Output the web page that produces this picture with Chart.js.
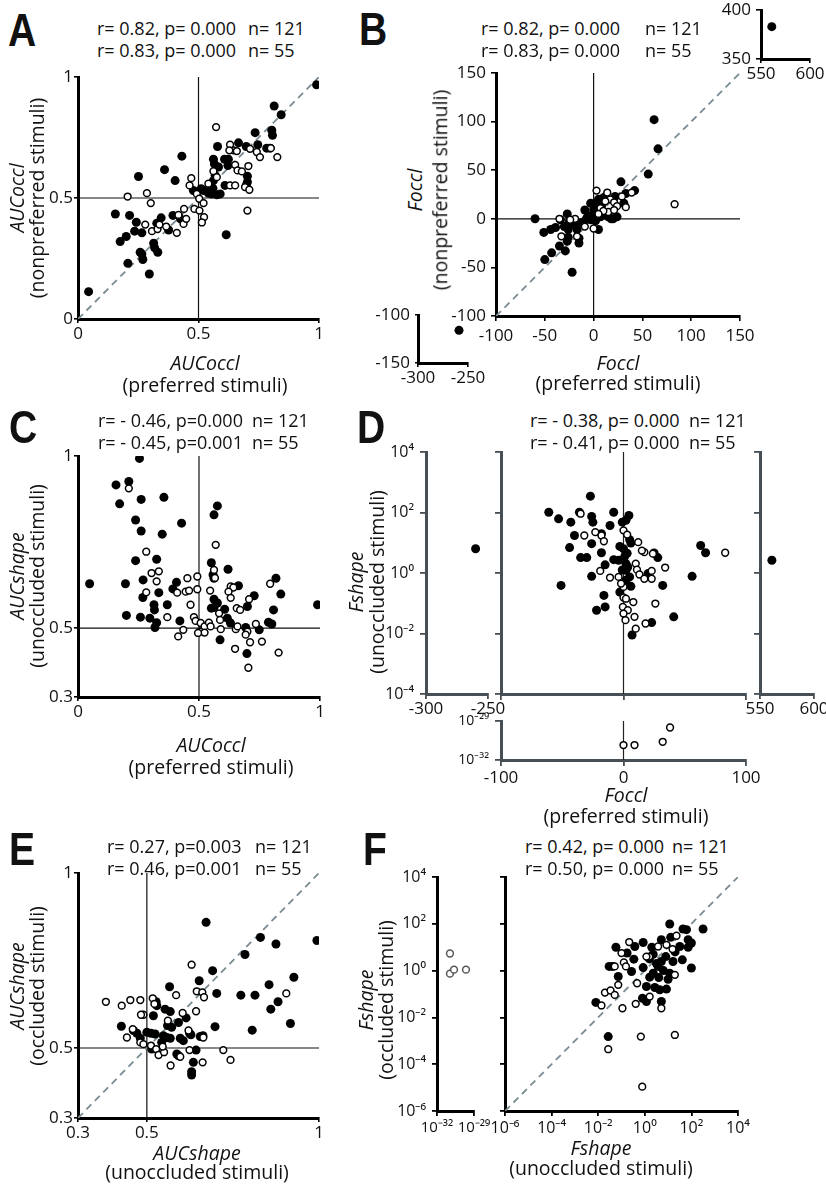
<!DOCTYPE html>
<html>
<head>
<meta charset="utf-8">
<script src="https://cdn.jsdelivr.net/npm/chart.js@4.4.0/dist/chart.umd.min.js"></script>
<style>
  body { margin: 0; background: #fff; overflow: hidden; }
  #fig { position: relative; width: 826px; height: 1185px; font-family: 'Open Sans', sans-serif; color: #111; }
  canvas { position: absolute; }
  .lbl { position: absolute; white-space: pre; line-height: 1; transform: translate(-50%, -50%); }
</style>
</head>
<body>
<div id="fig"></div>
<script>
// ---- data ----
// A: AUCoccl preferred (x) vs nonpreferred (y)
const aFilled = [[0.044,0.113],[0.99,0.968],[0.814,0.88],[0.843,0.844],[0.735,0.77],[0.804,0.78],[0.807,0.759],[0.783,0.706],[0.797,0.706],[0.746,0.72],[0.666,0.728],[0.698,0.713],[0.579,0.713],[0.624,0.66],[0.608,0.66],[0.562,0.66],[0.566,0.641],[0.583,0.628],[0.622,0.634],[0.703,0.59],[0.703,0.566],[0.698,0.552],[0.569,0.593],[0.562,0.572],[0.61,0.552],[0.555,0.517],[0.576,0.513],[0.59,0.517],[0.615,0.348],[0.431,0.673],[0.359,0.617],[0.403,0.572],[0.251,0.589],[0.155,0.434],[0.214,0.428],[0.242,0.4],[0.235,0.363],[0.265,0.356],[0.2,0.341],[0.175,0.32],[0.258,0.276],[0.265,0.269],[0.269,0.246],[0.207,0.23],[0.296,0.186],[0.314,0.313],[0.318,0.294],[0.331,0.276],[0.327,0.396],[0.345,0.418],[0.376,0.368],[0.394,0.428],[0.425,0.414],[0.479,0.531],[0.511,0.538],[0.521,0.531],[0.541,0.52],[0.55,0.53],[0.56,0.54]];
const aOpen = [[0.573,0.793],[0.631,0.72],[0.645,0.697],[0.659,0.694],[0.628,0.697],[0.714,0.703],[0.742,0.69],[0.755,0.669],[0.8,0.706],[0.827,0.669],[0.707,0.632],[0.652,0.637],[0.662,0.614],[0.68,0.61],[0.631,0.552],[0.652,0.552],[0.562,0.611],[0.576,0.586],[0.693,0.545],[0.711,0.534],[0.703,0.448],[0.541,0.559],[0.47,0.582],[0.463,0.552],[0.493,0.517],[0.503,0.497],[0.521,0.479],[0.483,0.455],[0.504,0.448],[0.523,0.421],[0.514,0.399],[0.206,0.506],[0.286,0.52],[0.302,0.479],[0.279,0.39],[0.307,0.363],[0.33,0.372],[0.338,0.39],[0.366,0.382],[0.41,0.356],[0.417,0.43],[0.44,0.455],[0.438,0.393],[0.449,0.414]];

// B: Foccl preferred (x) vs nonpreferred (y)
const bFilled = [[62,102],[66,72],[56,46],[42,29],[28,38],[33,26],[22,23],[31,16],[24,2],[20,0],[-60,0],[-51,-14],[-44,-11],[-39,-9],[-27,5],[-34,-1],[-25,-3],[-26,-11],[-17,-11],[-15,-20],[-15,-25],[-26,-19],[-27,-23],[-35,-28],[-29,-33],[-43,-35],[-50,-42],[-22,-55],[-12,-4],[-9,9],[-3,16],[2,9],[3,6],[5,20],[9,21],[12,23],[-7,1],[-3,-1],[-10,-3],[5,-11],[7,2],[10,4],[0,9],[0,15],[-5,3],[2,-2],[15,2],[18,0],[-20,-6],[-30,-8],[4,12],[8,13]];
const bOpen = [[83,15],[3,29],[14,27],[17,20],[21,17],[15,7],[24,13],[33,12],[21,9],[29,23],[39,27],[-33,-18],[-19,0],[-9,-8],[0,-10],[-24,-1],[-35,0],[7,11],[10,8],[-17,-18],[12,18],[5,5]];
const bHigh = [[561,383]];
const bLow = [[-259,-116]];

// C: AUCoccl preferred (x) vs AUCshape unoccluded (y)
const cFilled = [[0.254,0.993],[0.157,0.916],[0.21,0.926],[0.172,0.861],[0.261,0.874],[0.355,0.88],[0.576,0.855],[0.562,0.829],[0.238,0.814],[0.261,0.782],[0.428,0.805],[0.348,0.773],[0.238,0.696],[0.325,0.7],[0.551,0.69],[0.62,0.671],[0.558,0.655],[0.562,0.645],[0.269,0.64],[0.407,0.633],[0.334,0.603],[0.392,0.614],[0.663,0.623],[0.818,0.645],[0.838,0.599],[0.728,0.594],[0.048,0.629],[0.196,0.629],[0.268,0.589],[0.314,0.568],[0.316,0.553],[0.369,0.568],[0.562,0.584],[0.576,0.573],[0.551,0.558],[0.562,0.56],[0.606,0.555],[0.7,0.563],[0.808,0.553],[0.99,0.568],[0.2,0.537],[0.258,0.532],[0.297,0.529],[0.325,0.516],[0.421,0.521],[0.318,0.502],[0.617,0.529],[0.63,0.515],[0.693,0.502],[0.749,0.495],[0.787,0.517],[0.801,0.512],[0.587,0.466],[0.698,0.426]];
const cOpen = [[0.21,0.906],[0.569,0.742],[0.282,0.722],[0.304,0.66],[0.334,0.665],[0.325,0.636],[0.282,0.604],[0.452,0.645],[0.493,0.65],[0.41,0.603],[0.445,0.606],[0.459,0.609],[0.493,0.613],[0.546,0.609],[0.465,0.568],[0.369,0.532],[0.562,0.669],[0.566,0.646],[0.631,0.621],[0.642,0.618],[0.622,0.606],[0.631,0.588],[0.707,0.584],[0.794,0.629],[0.656,0.558],[0.67,0.553],[0.583,0.543],[0.587,0.524],[0.479,0.532],[0.486,0.521],[0.507,0.515],[0.523,0.505],[0.541,0.516],[0.548,0.505],[0.504,0.49],[0.523,0.487],[0.496,0.486],[0.435,0.495],[0.414,0.476],[0.59,0.497],[0.652,0.497],[0.659,0.505],[0.735,0.512],[0.7,0.49],[0.693,0.481],[0.711,0.459],[0.76,0.461],[0.649,0.44],[0.829,0.429],[0.704,0.385]];

// D: Foccl preferred (x) vs log10 Fshape unoccluded (y)
const dFilled = [[-27,2.54],[-61,2.01],[-53,1.79],[-36,2.01],[-26,1.87],[-25,1.68],[-8,2.01],[4.4,1.9],[-1,1.68],[2,1.74],[-43,1.68],[-11,1.57],[-40,1.24],[-18,1.3],[-26,0.97],[-44,0.84],[-18,0.67],[-35,0.51],[-30,0.51],[-3,0.88],[0,0.8],[5,1.1],[6,0.99],[-8,0.44],[-15,0.27],[2,0.31],[3.5,0.2],[25,0.66],[28,0.51],[63,0.91],[67,0.67],[-26,-0.11],[2,0.09],[5,-0.13],[6,-0.44],[20,-0.02],[56,-0.11],[32,-0.41],[-51,-0.41],[-16,-0.74],[-15,-1.12],[-22,-1.23],[-3,-0.63],[23,-1.64],[41,-1.45],[7,-2.05],[-4,0.42],[2,-0.24],[1,0.55],[3,0.65],[-1,0.1]];
const dOpen = [[-35,1.96],[-23,1.35],[-18,1.24],[-16,1.05],[-32,1.24],[0,1.41],[3,1.27],[12,1.02],[17,0.69],[15,0.74],[24,0.64],[83,0.67],[-19,0.07],[-11,-0.15],[-4,-0.13],[10,0.31],[11,0.11],[13,-0.05],[17,-0.19],[23,0.07],[23,-0.19],[34,0.18],[0,-0.46],[0,-0.81],[2,-0.85],[8,-0.96],[-0.5,-1.12],[3.5,-1.23],[0,-1.34],[9,-1.45],[1.6,-1.56],[10,-1.84],[18,-1.67],[26,-1.01],[-2,-0.35]];
const dLeft = [[-260,0.8]];
const dRight = [[561,0.42]];
const dBottom = [[0,-30.85],[9,-30.85],[32,-30.6],[38,-29.5]];

// E: AUCshape unoccluded (x) vs occluded (y)
const eFilled = [[0.672,0.859],[0.83,0.816],[0.875,0.797],[0.994,0.807],[0.785,0.767],[0.691,0.721],[0.652,0.692],[0.566,0.675],[0.927,0.702],[0.855,0.681],[0.703,0.656],[0.773,0.651],[0.814,0.651],[0.881,0.632],[0.86,0.611],[0.917,0.57],[0.806,0.551],[0.698,0.561],[0.527,0.632],[0.529,0.621],[0.519,0.592],[0.553,0.611],[0.568,0.604],[0.614,0.586],[0.592,0.573],[0.56,0.564],[0.572,0.559],[0.426,0.562],[0.461,0.55],[0.471,0.542],[0.5,0.545],[0.512,0.542],[0.524,0.54],[0.548,0.535],[0.558,0.53],[0.568,0.528],[0.597,0.528],[0.606,0.521],[0.624,0.542],[0.628,0.538],[0.655,0.533],[0.663,0.535],[0.643,0.494],[0.587,0.483],[0.592,0.478],[0.635,0.459],[0.63,0.432],[0.63,0.423],[0.514,0.497],[0.543,0.516],[0.481,0.528]];
const eOpen = [[0.63,0.738],[0.381,0.632],[0.427,0.621],[0.452,0.637],[0.481,0.637],[0.517,0.642],[0.522,0.626],[0.585,0.651],[0.645,0.662],[0.661,0.659],[0.666,0.645],[0.905,0.656],[0.49,0.595],[0.483,0.595],[0.643,0.605],[0.604,0.6],[0.561,0.578],[0.442,0.53],[0.459,0.554],[0.481,0.516],[0.49,0.511],[0.512,0.507],[0.527,0.497],[0.534,0.48],[0.55,0.488],[0.546,0.504],[0.624,0.494],[0.662,0.459],[0.569,0.45],[0.597,0.475],[0.722,0.494],[0.743,0.466],[0.621,0.55],[0.664,0.53]];

// F: log10 Fshape unoccluded (x) vs log10 Fshape occluded (y)
const fFilled = [[1.07,1.99],[2.5,1.78],[1.64,1.78],[1.79,1.75],[0.71,1.32],[-0.07,1.2],[-0.43,1.03],[-1.24,1.0],[1.11,1.42],[1.86,1.32],[2.0,1.18],[1.86,1.0],[1.5,1.03],[-0.76,0.75],[-0.47,0.49],[0.36,0.7],[-1.53,0.18],[-1.39,0.18],[-0.57,-0.04],[-0.07,0.13],[0.71,0.39],[0.57,0.18],[1.21,0.39],[1.61,0.46],[2.0,0.11],[0.21,-0.28],[0.36,-0.11],[1.07,-0.11],[1.0,-0.37],[-1.14,-0.25],[0.07,-0.68],[0.43,-0.72],[0.64,-0.82],[0.93,-0.79],[-0.1,-1.18],[0.07,-1.32],[0.71,-1.32],[-2.1,-1.36],[-1.57,-2.82],[0.5,0.3],[0.8,0.0],[0.2,0.5],[0.9,0.6],[0.3,1.0],[1.3,0.8],[0.6,-0.3]];
const fOpen = [[-0.67,1.22],[-1.0,0.75],[-0.9,0.35],[-0.81,0.18],[-1.29,0.18],[0.19,0.6],[1.36,1.49],[1.19,0.92],[0.57,1.03],[-1.14,-0.61],[-1.71,-0.94],[-1.47,-0.85],[-1.29,-1.04],[-1.86,-1.49],[-0.96,-1.61],[-0.39,-1.42],[-0.33,-0.54],[0.21,-1.11],[0.71,-1.61],[1.29,-0.18],[-0.17,-2.82],[1.29,-2.75],[-1.57,-3.36],[-0.11,-4.96],[0.93,1.1],[0.07,0.6]];
const fLeft = [[-30.95,0.73],[-30.95,-0.13],[-30.62,0.04],[-29.65,0.04]];

// ticks
const unitTicks = [0, 0.5, 1], unitLabels = ['0', '0.5', '1'];
const aucTicks = [0.3, 0.5, 1], aucLabels = ['0.3', '0.5', '1'];
const foTicks = [-100, -50, 0, 50, 100, 150], foLabels = ['-100', '-50', '0', '50', '100', '150'];
const fsTicks = [1e-4, 1e-2, 1, 1e2, 1e4], fsLabels = ['10⁻⁴', '10⁻²', '10⁰', '10²', '10⁴'];
const fsTicksF = [1e-6, 1e-4, 1e-2, 1, 1e2, 1e4], fsLabelsF = ['10⁻⁶', '10⁻⁴', '10⁻²', '10⁰', '10²', '10⁴'];
const tinyTicks = [1e-32, 1e-29], tinyLabels = ['10⁻³²', '10⁻²⁹'];

// ---- drawing ----
const fig = document.getElementById('fig');
Chart.defaults.font.family = "'Open Sans', sans-serif";
Chart.defaults.color = '#111';

const AX_W = 60, AX_H = 30;
const K = '#000', SLATE = '#454f55', DASH = '#7a8b92';

const pts = arr => arr.map(([x, y]) => ({ x, y }));
const logY = arr => arr.map(([x, e]) => ({ x, y: 10 ** e }));
const logXY = arr => arr.map(([a, b]) => ({ x: 10 ** a, y: 10 ** b }));

function filled(data) {
  return { data, pointRadius: 4.5, pointBackgroundColor: '#000', pointBorderColor: '#000', pointBorderWidth: 0 };
}
function open(data, col) {
  return { data, pointRadius: 3.4, pointBackgroundColor: '#fff', pointBorderColor: col || '#000', pointBorderWidth: 1.5 };
}
function seg(p, q, col, w, dash) {
  return { data: [p, q], showLine: true, pointRadius: 0, borderColor: col, borderWidth: w, borderDash: dash || [] };
}
const diag = (lo, hi) => seg({ x: lo, y: lo }, { x: hi, y: hi }, DASH, 1.8, [7, 5]);

function ax(type, min, max, ticks, labels, col, o) {
  o = o || {};
  return {
    type, min, max, bounds: 'data',
    afterBuildTicks: s => { s.ticks = ticks.map(v => ({ value: v })); },
    afterFit: s => {
      if (s.isHorizontal()) s.height = AX_H; else s.width = AX_W;
      s.paddingLeft = s.paddingRight = s.paddingTop = s.paddingBottom = 0;
    },
    ticks: {
      autoSkip: false, maxRotation: 0, padding: o.pad == null ? 1 : o.pad, color: '#111',
      font: { size: o.size || 17 }, callback: (v, i) => labels[i]
    },
    grid: { drawOnChartArea: false, tickLength: o.tick || 4, color: col, lineWidth: o.tw || 1.6 },
    border: { color: col, width: o.bw || 3 }
  };
}

function plot(area, m, xAx, yAx, datasets) {
  const [ml, mt, mr, mb] = m;
  const cv = document.createElement('canvas');
  cv.width = area.r - area.l + ml + mr;
  cv.height = area.b - area.t + mt + mb;
  cv.style.left = (area.l - ml) + 'px';
  cv.style.top = (area.t - mt) + 'px';
  fig.appendChild(cv);
  new Chart(cv, {
    type: 'scatter',
    data: { datasets },
    options: {
      responsive: false, animation: false, events: [],
      layout: { padding: { left: ml - AX_W, top: mt, right: mr, bottom: mb - AX_H } },
      plugins: { legend: { display: false }, tooltip: { enabled: false } },
      scales: { x: xAx, y: yAx }
    }
  });
}

function label(text, x, y, style) {
  const d = document.createElement('div');
  d.className = 'lbl';
  d.textContent = text;
  d.style.left = x + 'px';
  d.style.top = y + 'px';
  Object.assign(d.style, style || {});
  fig.appendChild(d);
}
const letter = (t, x, y) => label(t, x, y, { font: "bold 46px 'Liberation Sans', Arial, sans-serif", transform: 'translate(-50%,-50%) scaleX(0.85)' });
function stats(x, nx, y, lines) {
  lines.forEach((ln, i) => {
    label(ln[0], x, y + i * 22, { fontSize: '18px', transform: 'translate(0,-50%)' });
    label(ln[1], nx, y + i * 22, { fontSize: '18px', transform: 'translate(0,-50%)' });
  });
}
function yTitle(t1, t2, x1, x2, y) {
  label(t1, x1, y, { fontSize: '19.5px', fontStyle: 'italic', transform: 'translate(-50%,-50%) rotate(-90deg)' });
  label(t2, x2, y, { fontSize: '19.5px', transform: 'translate(-50%,-50%) rotate(-90deg)' });
}
function xTitle(t1, t2, x, y1, y2) {
  label(t1, x, y1, { fontSize: '19.5px', fontStyle: 'italic' });
  label(t2, x, y2, { fontSize: '19.5px' });
}

// Panel A
plot({ l: 78, t: 77, r: 319, b: 319 }, [62, 10, 25, 40],
  ax('linear', 0, 1, unitTicks, unitLabels, K),
  ax('linear', 0, 1, unitTicks, unitLabels, K),
  [open(pts(aOpen)), filled(pts(aFilled)), diag(0, 1),
   seg({ x: 0.5, y: 0 }, { x: 0.5, y: 1 }, '#111', 1.2), seg({ x: 0, y: 0.5 }, { x: 1, y: 0.5 }, '#111', 1.2)]);

// Panel B main + broken-axis insets
plot({ l: 496, t: 73, r: 740, b: 316 }, [62, 10, 20, 40],
  ax('linear', -100, 150, foTicks, foLabels, K, { pad: 5, tick: 5 }),
  ax('linear', -100, 150, foTicks, foLabels, K, { pad: 5, tick: 5 }),
  [open(pts(bOpen)), filled(pts(bFilled)), diag(-100, 150),
   seg({ x: 0, y: -100 }, { x: 0, y: 150 }, '#111', 1.2), seg({ x: -100, y: 0 }, { x: 150, y: 0 }, '#111', 1.2)]);
plot({ l: 761, t: 10, r: 810, b: 59 }, [62, 10, 16, 35],
  ax('linear', 550, 600, [550, 600], ['550', '600'], K, { tick: 4 }),
  ax('linear', 350, 400, [350, 400], ['350', '400'], K, { pad: 5, tick: 5 }),
  [filled(pts(bHigh))]);
plot({ l: 418, t: 315, r: 468, b: 363 }, [62, 10, 20, 35],
  ax('linear', -300, -250, [-300, -250], ['-300', '-250'], K, { tick: 4 }),
  ax('linear', -150, -100, [-150, -100], ['-150', '-100'], K, { pad: 5, tick: 3 }),
  [filled(pts(bLow))]);

// Panel C
plot({ l: 78, t: 456, r: 320, b: 697 }, [62, 10, 25, 40],
  ax('linear', 0, 1, unitTicks, unitLabels, K),
  ax('linear', 0.3, 1, aucTicks, aucLabels, K),
  [open(pts(cOpen)), filled(pts(cFilled)),
   seg({ x: 0.5, y: 0.3 }, { x: 0.5, y: 1 }, '#111', 1.2), seg({ x: 0, y: 0.5 }, { x: 1, y: 0.5 }, '#111', 1.2)]);

// Panel D: main, left/right broken panels, bottom strip
const dOpt = { size: 16, tick: 6, bw: 3, tw: 1.8, pad: 6 };
const dXOpt = Object.assign({}, dOpt, { size: 17, pad: 0, tick: 5 });
plot({ l: 501, t: 452, r: 746, b: 694 }, [62, 10, 20, 35],
  ax('linear', -100, 100, [-100, 0, 100], ['', '', ''], SLATE, dOpt),
  ax('logarithmic', 1e-4, 1e4, fsTicks, ['', '', '', '', ''], SLATE, dOpt),
  [open(logY(dOpen)), filled(logY(dFilled)), seg({ x: 0, y: 1e-4 }, { x: 0, y: 1e4 }, '#222', 1.2)]);
plot({ l: 426, t: 452, r: 488, b: 694 }, [62, 10, 20, 35],
  ax('linear', -300, -250, [-300, -250], ['-300', '-250'], SLATE, dXOpt),
  ax('logarithmic', 1e-4, 1e4, fsTicks, fsLabels, SLATE, dOpt),
  [filled(logY(dLeft))]);
plot({ l: 760, t: 452, r: 814, b: 694 }, [62, 10, 14, 35],
  ax('linear', 550, 600, [550, 600], ['550', '600'], SLATE, dXOpt),
  ax('logarithmic', 1e-4, 1e4, fsTicks, ['', '', '', '', ''], SLATE, dOpt),
  [filled(logY(dRight))]);
plot({ l: 501, t: 721, r: 746, b: 760 }, [62, 12, 20, 35],
  ax('linear', -100, 100, [-100, 0, 100], ['-100', '0', '100'], SLATE, Object.assign({}, dOpt, { size: 17, pad: 2 })),
  ax('logarithmic', 1e-32, 1e-29, tinyTicks, tinyLabels, SLATE, Object.assign({}, dOpt, { size: 14 })),
  [open(logY(dBottom)), seg({ x: 0, y: 1e-32 }, { x: 0, y: 1e-29 }, '#222', 1.2)]);

// Panel E
plot({ l: 78, t: 873, r: 319, b: 1118 }, [62, 10, 25, 40],
  ax('linear', 0.3, 1, aucTicks, aucLabels, K),
  ax('linear', 0.3, 1, aucTicks, aucLabels, K),
  [open(pts(eOpen)), filled(pts(eFilled)), diag(0.3, 1),
   seg({ x: 0.5, y: 0.3 }, { x: 0.5, y: 1 }, '#111', 1.2), seg({ x: 0.3, y: 0.5 }, { x: 1, y: 0.5 }, '#111', 1.2)]);

// Panel F: main + left broken panel
const fOpt = { size: 16, tick: 5, bw: 3, tw: 1.8, pad: 3 };
plot({ l: 505, t: 877, r: 738, b: 1111 }, [62, 10, 25, 35],
  ax('logarithmic', 1e-6, 1e4, fsTicksF, fsLabelsF, K, fOpt),
  ax('logarithmic', 1e-6, 1e4, fsTicksF, ['', '', '', '', '', ''], K, fOpt),
  [open(logXY(fOpen)), filled(logXY(fFilled)), diag(1e-6, 1e4)]);
plot({ l: 437, t: 877, r: 474, b: 1111 }, [62, 10, 20, 35],
  ax('logarithmic', 1e-32, 1e-29, tinyTicks, tinyLabels, K, Object.assign({}, fOpt, { size: 15 })),
  ax('logarithmic', 1e-6, 1e4, fsTicksF, fsLabelsF, K, Object.assign({}, fOpt, { pad: 6 })),
  [open(logXY(fLeft), '#555')]);

// ---- text ----
letter('A', 22, 30); letter('B', 373, 29);
letter('C', 23, 427); letter('D', 371, 427);
letter('E', 22, 849); letter('F', 375, 849);

stats(97, 248, 28, [['r= 0.82, p= 0.000', 'n= 121'], ['r= 0.83, p= 0.000', 'n= 55']]);
stats(481, 645, 28, [['r= 0.82, p= 0.000', 'n= 121'], ['r= 0.83, p= 0.000', 'n= 55']]);
stats(98, 252, 420, [['r= - 0.46, p=0.000', 'n= 121'], ['r= - 0.45, p=0.001', 'n= 55']]);
stats(530, 689, 420, [['r= - 0.38, p= 0.000', 'n= 121'], ['r= - 0.41, p= 0.000', 'n= 55']]);
stats(107, 255, 846, [['r= 0.27, p=0.003', 'n= 121'], ['r= 0.46, p=0.001', 'n= 55']]);
stats(525, 672, 846, [['r= 0.42, p= 0.000', 'n= 121'], ['r= 0.50, p= 0.000', 'n= 55']]);

yTitle('AUCoccl', '(nonpreferred stimuli)', 17, 37, 198);
yTitle('Foccl', '(nonpreferred stimuli)', 415, 440, 190);
yTitle('AUCshape', '(unoccluded stimuli)', 17, 37, 576);
yTitle('Fshape', '(unoccluded stimuli)', 356, 377, 582);
yTitle('AUCshape', '(occluded stimuli)', 17, 37, 986);
yTitle('Fshape', '(occluded stimuli)', 366, 386, 1000);

xTitle('AUCoccl', '(preferred stimuli)', 205, 363, 385);
xTitle('Foccl', '(preferred stimuli)', 618, 363, 383);
xTitle('AUCoccl', '(preferred stimuli)', 211, 745, 767);
xTitle('Foccl', '(preferred stimuli)', 626, 795, 816);
xTitle('AUCshape', '(unoccluded stimuli)', 197, 1153, 1172);
xTitle('Fshape', '(unoccluded stimuli)', 601, 1148, 1168);
</script>
</body>
</html>
